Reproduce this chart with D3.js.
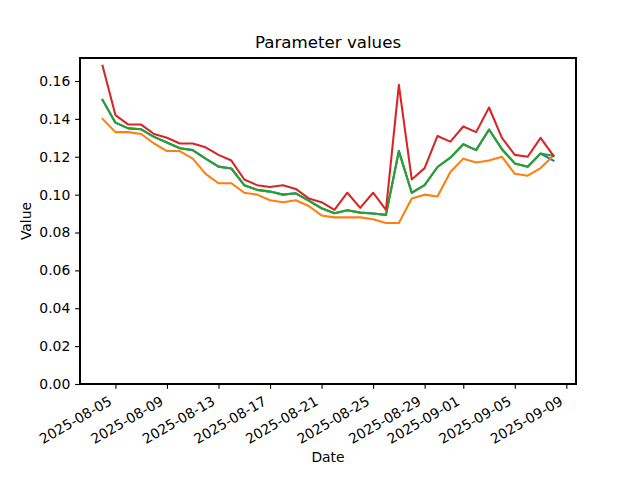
<!DOCTYPE html>
<html><head><meta charset="utf-8">
<script src="https://cdn.jsdelivr.net/npm/d3@7"></script>
<style>body{margin:0;background:#fff}svg{display:block}text{font-family:"DejaVu Sans",sans-serif;fill:#000}</style>
</head><body>
<svg id="c" width="640" height="480"></svg>
<script>
const startDate = "2025-08-04";
const nDays = 36;
const seriesBlue = [0.150,0.138,0.135,0.1345,0.1305,0.1275,0.1245,0.1235,0.119,0.1148,0.1138,0.105,0.1025,0.1016,0.100,0.1007,0.0968,0.0928,0.0902,0.0918,0.0905,0.090,0.0893,0.123,0.101,0.105,0.1146,0.1195,0.1266,0.1235,0.1344,0.124,0.1165,0.1147,0.1217,0.118];
const seriesOrange = [0.140,0.133,0.133,0.132,0.127,0.123,0.123,0.119,0.111,0.106,0.106,0.101,0.100,0.097,0.096,0.097,0.094,0.089,0.088,0.088,0.088,0.087,0.085,0.085,0.098,0.100,0.099,0.112,0.119,0.117,0.118,0.120,0.111,0.110,0.114,0.1205];
const seriesGreen = [0.150,0.138,0.135,0.1345,0.1305,0.1275,0.1245,0.1235,0.119,0.1148,0.1138,0.105,0.1025,0.1016,0.100,0.1007,0.0968,0.0928,0.0902,0.0918,0.0905,0.090,0.0893,0.123,0.101,0.105,0.1146,0.1195,0.1266,0.1235,0.1344,0.124,0.1165,0.1147,0.1217,0.1205];
const seriesRed = [0.168,0.142,0.137,0.137,0.132,0.130,0.127,0.127,0.125,0.121,0.118,0.108,0.105,0.104,0.105,0.103,0.098,0.096,0.092,0.101,0.093,0.101,0.092,0.158,0.108,0.114,0.131,0.128,0.136,0.133,0.146,0.130,0.121,0.120,0.130,0.1205];
const xTickLabels = ["2025-08-05","2025-08-09","2025-08-13","2025-08-17","2025-08-21","2025-08-25","2025-08-29","2025-09-01","2025-09-05","2025-09-09"];
const yTicks = [0,0.02,0.04,0.06,0.08,0.10,0.12,0.14,0.16];

const parse = d3.utcParse("%Y-%m-%d");
const t0 = parse(startDate);
const DAY = 86400000;
const dates = d3.range(nDays).map(i => new Date(t0.getTime() + i*DAY));

const L = 80, R = 576, T = 58, B = 384;
const svg = d3.select("#c");

const allVals = seriesBlue.concat(seriesOrange, seriesGreen, seriesRed);
const vmin = d3.min(allVals), vmax = d3.max(allVals);
const ytop = vmax + 0.05*(vmax - vmin);
const y = d3.scaleLinear().domain([0, ytop]).range([B, T]);

const dStart = dates[0].getTime(), dEnd = dates[nDays-1].getTime();
const span = dEnd - dStart;
const x = d3.scaleUtc().domain([new Date(dStart - 0.05*span), new Date(dEnd + 0.05*span)]).range([L, R]);

const series = [
  {v: seriesBlue, c: "#1f77b4"},
  {v: seriesOrange, c: "#ff7f0e"},
  {v: seriesGreen, c: "#2ca02c"},
  {v: seriesRed, c: "#d62728"}
];
const line = d3.line().x((d,i) => x(dates[i])).y(d => y(d));
svg.append("clipPath").attr("id","clp").append("rect").attr("x",L).attr("y",T).attr("width",R-L).attr("height",B-T);
series.forEach(s => {
  svg.append("path").datum(s.v).attr("d", line).attr("fill","none")
    .attr("stroke", s.c).attr("stroke-width", 2.08).attr("stroke-linejoin","round").attr("stroke-linecap","square")
    .attr("clip-path","url(#clp)");
});

// Frame
svg.append("rect").attr("x",L).attr("y",T).attr("width",R-L).attr("height",B-T)
  .attr("fill","none").attr("stroke","#000").attr("stroke-width",1.11).attr("shape-rendering","crispEdges");

// Y axis
const yAxis = d3.axisLeft(y).tickValues(yTicks).tickFormat(d3.format(".2f")).tickSize(4.86).tickPadding(4.86);
const gy = svg.append("g").attr("transform",`translate(${L},0)`).call(yAxis);
gy.select(".domain").remove();
gy.selectAll("line").attr("stroke","#000").attr("stroke-width",1.11);
gy.selectAll("text").attr("font-size","13.9px").attr("font-family","DejaVu Sans").attr("fill","#000");

// X axis
const xTickDates = xTickLabels.map(parse);
const xAxis = d3.axisBottom(x).tickValues(xTickDates).tickFormat(d3.utcFormat("%Y-%m-%d")).tickSize(4.86).tickPadding(4.86);
const gx = svg.append("g").attr("transform",`translate(0,${B})`).call(xAxis);
gx.select(".domain").remove();
gx.selectAll("line").attr("stroke","#000").attr("stroke-width",1.11);
gx.selectAll("text").attr("font-size","13.9px").attr("font-family","DejaVu Sans").attr("fill","#000")
  .attr("text-anchor","end").attr("dy",null).attr("y",null)
  .attr("transform","translate(-3,20) rotate(-30)");

// Labels
svg.append("text").attr("x",(L+R)/2).attr("y",48).attr("text-anchor","middle").attr("font-size","16.67px").text("Parameter values");
svg.append("text").attr("x",(L+R)/2).attr("y",462).attr("text-anchor","middle").attr("font-size","13.9px").text("Date");
svg.append("text").attr("transform",`translate(31,${(T+B)/2}) rotate(-90)`).attr("text-anchor","middle").attr("font-size","13.9px").text("Value");
</script>
</body></html>
